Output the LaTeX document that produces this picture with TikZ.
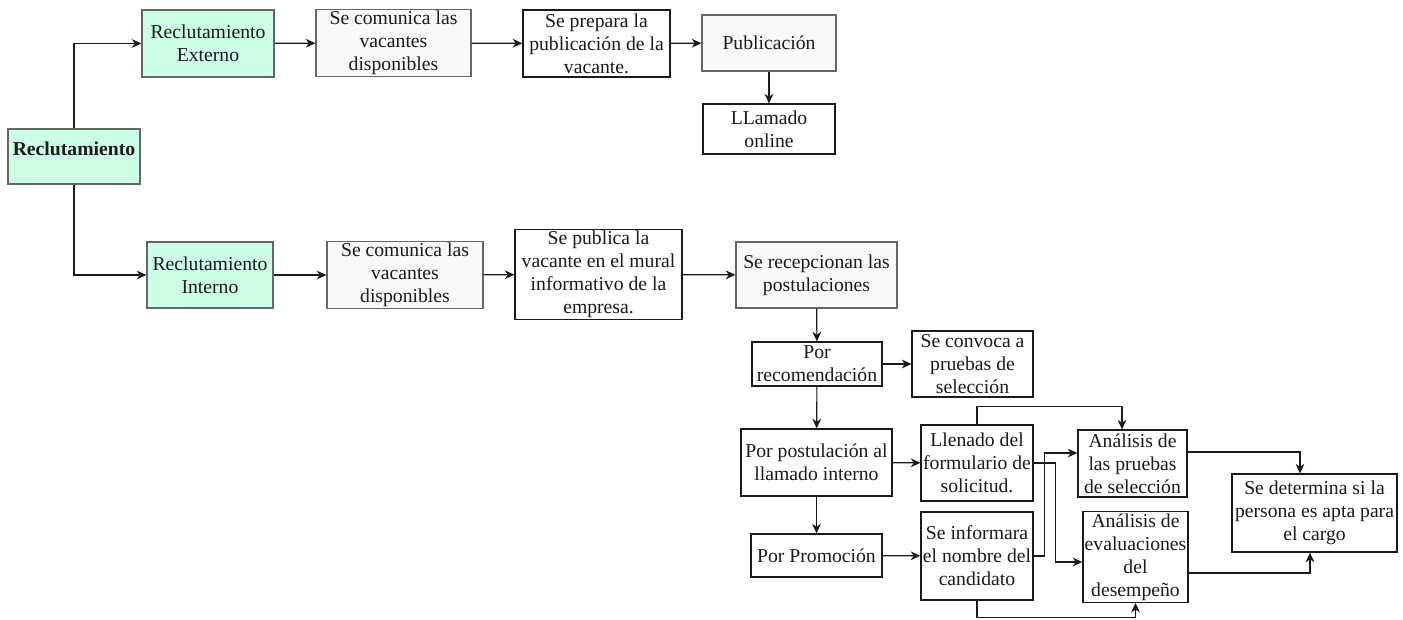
\documentclass[tikz,border=0pt]{standalone}
\usepackage{fontspec}
\setmainfont{Liberation Serif}
\usepackage{tikz}
\usetikzlibrary{arrows.meta, positioning, calc}
\definecolor{mintfill}{HTML}{CCFFE6}
\definecolor{boxbg}{HTML}{F9F9F9}
\definecolor{greyline}{HTML}{666666}
\definecolor{inkline}{HTML}{1A1A1A}

\begin{document}
\begin{tikzpicture}[
  base/.style={align=center, inner sep=1pt, font=\fontsize{11.2}{13.1}\selectfont, line width=0.7pt},
  grn/.style={base, draw=greyline, fill=mintfill},
  gbox/.style={base, draw=greyline, fill=boxbg},
  bbox/.style={base, draw=inkline, fill=white},
  -{Stealth[length=5.5pt, width=5pt]}, line width=0.65pt, inkline
]
\useasboundingbox (0,0) rectangle (28.06,-12.38);

% recruitment sources
\node[grn, minimum width=2.64cm, minimum height=1.10cm, text depth=0.3cm] (rec) at (1.48,-3.13) {\textbf{Reclutamiento}};
\node[grn, minimum width=2.64cm, minimum height=1.34cm] (recext) at (4.16,-0.87) {Reclutamiento\\Externo};
\node[grn, minimum width=2.52cm, minimum height=1.32cm] (recint) at (4.20,-5.50) {Reclutamiento\\Interno};

% external path
\node[gbox, minimum width=3.10cm, minimum height=1.32cm] (comext) at (7.87,-0.86) {Se comunica las\\vacantes\\disponibles};
\node[bbox, minimum width=2.94cm, minimum height=1.34cm] (prepara) at (11.93,-0.87) {Se prepara la\\publicación de la\\vacante.};
\node[gbox, minimum width=2.68cm, minimum height=1.12cm] (publ) at (15.38,-0.86) {Publicación};
\node[bbox, minimum width=2.64cm, minimum height=1.00cm] (online) at (15.38,-2.58) {LLamado\\online};

% internal path
\node[gbox, minimum width=3.12cm, minimum height=1.32cm] (comint) at (8.10,-5.50) {Se comunica las\\vacantes\\disponibles};
\node[bbox, minimum width=3.34cm, minimum height=1.78cm] (publica) at (11.97,-5.49) {Se publica la\\vacante en el mural\\informativo de la\\empresa.};
\node[gbox, minimum width=3.22cm, minimum height=1.32cm] (recep) at (16.33,-5.50) {Se recepcionan las\\postulaciones};
\node[bbox, minimum width=2.60cm, minimum height=0.88cm] (recom) at (16.34,-7.28) {Por\\recomendación};
\node[bbox, minimum width=2.42cm, minimum height=1.32cm] (convoca) at (19.45,-7.28) {Se convoca a\\pruebas de\\selección};
\node[bbox, minimum width=3.02cm, minimum height=1.34cm] (postul) at (16.33,-9.25) {Por postulación al\\llamado interno};
\node[bbox, minimum width=2.24cm, minimum height=1.52cm] (llenado) at (19.54,-9.26) {Llenado del\\formulario de\\solicitud.};
\node[bbox, minimum width=2.62cm, minimum height=0.86cm] (promo) at (16.33,-11.11) {Por Promoción};
\node[bbox, minimum width=2.24cm, minimum height=1.76cm] (informa) at (19.54,-11.12) {Se informara\\el nombre del\\candidato};
\node[bbox, minimum width=2.18cm, minimum height=1.34cm] (anpru) at (22.65,-9.27) {Análisis de\\las pruebas\\de selección};
\node[bbox, minimum width=2.10cm, minimum height=1.76cm] (aneval) at (22.71,-11.14) {Análisis de\\evaluaciones\\del\\desempeño};
\node[bbox, minimum width=3.30cm, minimum height=1.56cm] (determ) at (26.29,-10.26) {Se determina si la\\persona es apta para\\el cargo};

\draw (rec.north) |- (recext.west);
\draw (rec.south) |- (recint.west);

\draw (recext) -- (comext);
\draw (comext) -- (prepara);
\draw (prepara) -- (publ);
\draw (publ) -- (online);

\draw (recint) -- (comint);
\draw (comint) -- (publica);
\draw (publica) -- (recep);
\draw (recep) -- (recom);
\draw (recom) -- (convoca);
\draw (recom) -- (postul);
\draw (postul) -- (promo);
\draw (postul) -- (llenado);
\draw (promo) -- (informa);

\draw (llenado.north) -- ++(0,0.36) -| ([xshift=-0.21cm]anpru.north);
\draw (informa.east) -- ++(0.22,0) |- ([yshift=0.21cm]anpru.west);
\draw (llenado.east) -- ++(0.44,0) |- ([yshift=-0.10cm]aneval.west);
\draw (informa.south) -- ++(0,-0.34) -| (aneval.south);
\draw ([yshift=0.23cm]anpru.east) -| ([xshift=-0.29cm]determ.north);
\draw ([yshift=-0.32cm]aneval.east) -| ([xshift=-0.09cm]determ.south);
\end{tikzpicture}
\end{document}
